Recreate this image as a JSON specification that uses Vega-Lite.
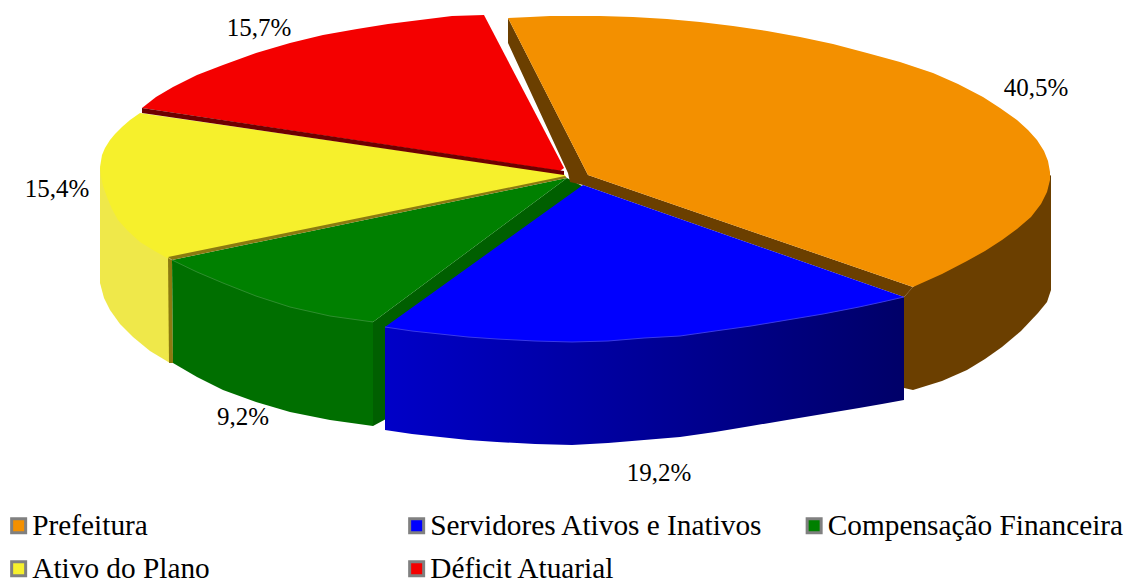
{"$schema":"https://vega.github.io/schema/vega-lite/v6.json","width":1128,"height":583,"autosize":{"type":"fit","contains":"padding"},"padding":0,"background":"white","config":{"view":{"stroke":null}},
"datasets":{"shapes":[
{"s":"yw","i":0,"x":100,"y":167},{"s":"yw","i":1,"x":100,"y":283},{"s":"yw","i":2,"x":104,"y":298},{"s":"yw","i":3,"x":110,"y":310},{"s":"yw","i":4,"x":120,"y":324},{"s":"yw","i":5,"x":133,"y":337},{"s":"yw","i":6,"x":150,"y":351},{"s":"yw","i":7,"x":170,"y":363},{"s":"yw","i":8,"x":170,"y":258},
{"s":"yb","i":0,"x":168,"y":258},{"s":"yb","i":1,"x":172,"y":260},{"s":"yb","i":2,"x":173,"y":363},{"s":"yb","i":3,"x":169,"y":363},
{"s":"gw","i":0,"x":172,"y":260},{"s":"gw","i":1,"x":173,"y":363},{"s":"gw","i":2,"x":197,"y":377},{"s":"gw","i":3,"x":223,"y":390},{"s":"gw","i":4,"x":256,"y":402},{"s":"gw","i":5,"x":290,"y":412},{"s":"gw","i":6,"x":330,"y":420},{"s":"gw","i":7,"x":373,"y":426},{"s":"gw","i":8,"x":373,"y":322},
{"s":"gs","i":0,"x":567,"y":178},{"s":"gs","i":1,"x":373,"y":322},{"s":"gs","i":2,"x":373,"y":426},{"s":"gs","i":3,"x":386,"y":419},{"s":"gs","i":4,"x":386,"y":329},{"s":"gs","i":5,"x":584,"y":187},
{"s":"ow","i":0,"x":1051,"y":175},{"s":"ow","i":1,"x":1051,"y":290},{"s":"ow","i":2,"x":1047,"y":302},{"s":"ow","i":3,"x":1038,"y":313},{"s":"ow","i":4,"x":1021,"y":331},{"s":"ow","i":5,"x":1002,"y":347},{"s":"ow","i":6,"x":985,"y":359},{"s":"ow","i":7,"x":967,"y":370},{"s":"ow","i":8,"x":942,"y":381},{"s":"ow","i":9,"x":913,"y":390},{"s":"ow","i":10,"x":904,"y":388},{"s":"ow","i":11,"x":904,"y":297},{"s":"ow","i":12,"x":913,"y":287},
{"s":"os","i":0,"x":508,"y":18},{"s":"os","i":1,"x":508,"y":43},{"s":"os","i":2,"x":568,"y":173},{"s":"os","i":3,"x":570,"y":182},{"s":"os","i":4,"x":583,"y":185},{"s":"os","i":5,"x":904,"y":297},{"s":"os","i":6,"x":913,"y":287},{"s":"os","i":7,"x":588,"y":175},
{"s":"bw","i":0,"x":385,"y":327},{"s":"bw","i":1,"x":385,"y":430},{"s":"bw","i":2,"x":412,"y":434},{"s":"bw","i":3,"x":440,"y":437},{"s":"bw","i":4,"x":468,"y":440},{"s":"bw","i":5,"x":497,"y":442},{"s":"bw","i":6,"x":535,"y":444},{"s":"bw","i":7,"x":572,"y":445},{"s":"bw","i":8,"x":608,"y":443},{"s":"bw","i":9,"x":644,"y":440},{"s":"bw","i":10,"x":680,"y":437},{"s":"bw","i":11,"x":715,"y":432},{"s":"bw","i":12,"x":751,"y":426},{"s":"bw","i":13,"x":787,"y":420},{"s":"bw","i":14,"x":823,"y":414},{"s":"bw","i":15,"x":859,"y":408},{"s":"bw","i":16,"x":882,"y":404},{"s":"bw","i":17,"x":904,"y":400},{"s":"bw","i":18,"x":904,"y":297},
{"s":"Prefeitura","i":0,"x":508,"y":18},{"s":"Prefeitura","i":1,"x":530,"y":17},{"s":"Prefeitura","i":2,"x":550,"y":16},{"s":"Prefeitura","i":3,"x":575,"y":16},{"s":"Prefeitura","i":4,"x":600,"y":16},{"s":"Prefeitura","i":5,"x":633,"y":17},{"s":"Prefeitura","i":6,"x":667,"y":19},{"s":"Prefeitura","i":7,"x":700,"y":22},{"s":"Prefeitura","i":8,"x":733,"y":26},{"s":"Prefeitura","i":9,"x":767,"y":31},{"s":"Prefeitura","i":10,"x":800,"y":37},{"s":"Prefeitura","i":11,"x":833,"y":44},{"s":"Prefeitura","i":12,"x":867,"y":53},{"s":"Prefeitura","i":13,"x":900,"y":62},{"s":"Prefeitura","i":14,"x":933,"y":73},{"s":"Prefeitura","i":15,"x":958,"y":84},{"s":"Prefeitura","i":16,"x":983,"y":97},{"s":"Prefeitura","i":17,"x":1000,"y":108},{"s":"Prefeitura","i":18,"x":1017,"y":120},{"s":"Prefeitura","i":19,"x":1028,"y":130},{"s":"Prefeitura","i":20,"x":1037,"y":140},{"s":"Prefeitura","i":21,"x":1044,"y":151},{"s":"Prefeitura","i":22,"x":1048,"y":161},{"s":"Prefeitura","i":23,"x":1050,"y":172},{"s":"Prefeitura","i":24,"x":1050,"y":180},{"s":"Prefeitura","i":25,"x":1047,"y":192},{"s":"Prefeitura","i":26,"x":1041,"y":204},{"s":"Prefeitura","i":27,"x":1031,"y":217},{"s":"Prefeitura","i":28,"x":1017,"y":229},{"s":"Prefeitura","i":29,"x":1002,"y":240},{"s":"Prefeitura","i":30,"x":985,"y":251},{"s":"Prefeitura","i":31,"x":967,"y":261},{"s":"Prefeitura","i":32,"x":942,"y":274},{"s":"Prefeitura","i":33,"x":913,"y":287},{"s":"Prefeitura","i":34,"x":588,"y":175},
{"s":"Ativo do Plano","i":0,"x":140,"y":113},{"s":"Ativo do Plano","i":1,"x":130,"y":120},{"s":"Ativo do Plano","i":2,"x":122,"y":127},{"s":"Ativo do Plano","i":3,"x":115,"y":134},{"s":"Ativo do Plano","i":4,"x":110,"y":140},{"s":"Ativo do Plano","i":5,"x":105,"y":148},{"s":"Ativo do Plano","i":6,"x":102,"y":155},{"s":"Ativo do Plano","i":7,"x":100,"y":167},{"s":"Ativo do Plano","i":8,"x":101,"y":176},{"s":"Ativo do Plano","i":9,"x":103,"y":186},{"s":"Ativo do Plano","i":10,"x":107,"y":197},{"s":"Ativo do Plano","i":11,"x":112,"y":209},{"s":"Ativo do Plano","i":12,"x":118,"y":220},{"s":"Ativo do Plano","i":13,"x":128,"y":231},{"s":"Ativo do Plano","i":14,"x":140,"y":242},{"s":"Ativo do Plano","i":15,"x":153,"y":250},{"s":"Ativo do Plano","i":16,"x":167,"y":258},{"s":"Ativo do Plano","i":17,"x":566,"y":177},{"s":"Ativo do Plano","i":18,"x":564,"y":174},
{"s":"Servidores Ativos e Inativos","i":0,"x":385,"y":327},{"s":"Servidores Ativos e Inativos","i":1,"x":412,"y":331},{"s":"Servidores Ativos e Inativos","i":2,"x":440,"y":334},{"s":"Servidores Ativos e Inativos","i":3,"x":468,"y":337},{"s":"Servidores Ativos e Inativos","i":4,"x":497,"y":339},{"s":"Servidores Ativos e Inativos","i":5,"x":535,"y":341},{"s":"Servidores Ativos e Inativos","i":6,"x":572,"y":342},{"s":"Servidores Ativos e Inativos","i":7,"x":608,"y":341},{"s":"Servidores Ativos e Inativos","i":8,"x":644,"y":338},{"s":"Servidores Ativos e Inativos","i":9,"x":680,"y":336},{"s":"Servidores Ativos e Inativos","i":10,"x":715,"y":331},{"s":"Servidores Ativos e Inativos","i":11,"x":751,"y":326},{"s":"Servidores Ativos e Inativos","i":12,"x":787,"y":320},{"s":"Servidores Ativos e Inativos","i":13,"x":823,"y":314},{"s":"Servidores Ativos e Inativos","i":14,"x":859,"y":307},{"s":"Servidores Ativos e Inativos","i":15,"x":882,"y":302},{"s":"Servidores Ativos e Inativos","i":16,"x":904,"y":297},{"s":"Servidores Ativos e Inativos","i":17,"x":583,"y":185},
{"s":"Déficit Atuarial","i":0,"x":484,"y":15},{"s":"Déficit Atuarial","i":1,"x":452,"y":16},{"s":"Déficit Atuarial","i":2,"x":420,"y":20},{"s":"Déficit Atuarial","i":3,"x":388,"y":24},{"s":"Déficit Atuarial","i":4,"x":357,"y":29},{"s":"Déficit Atuarial","i":5,"x":323,"y":35},{"s":"Déficit Atuarial","i":6,"x":290,"y":43},{"s":"Déficit Atuarial","i":7,"x":256,"y":53},{"s":"Déficit Atuarial","i":8,"x":223,"y":65},{"s":"Déficit Atuarial","i":9,"x":197,"y":75},{"s":"Déficit Atuarial","i":10,"x":173,"y":87},{"s":"Déficit Atuarial","i":11,"x":156,"y":97},{"s":"Déficit Atuarial","i":12,"x":142,"y":108},{"s":"Déficit Atuarial","i":13,"x":560,"y":171},{"s":"Déficit Atuarial","i":14,"x":564,"y":168},
{"s":"Compensação Financeira","i":0,"x":567,"y":178},{"s":"Compensação Financeira","i":1,"x":172,"y":260},{"s":"Compensação Financeira","i":2,"x":197,"y":272},{"s":"Compensação Financeira","i":3,"x":223,"y":283},{"s":"Compensação Financeira","i":4,"x":256,"y":296},{"s":"Compensação Financeira","i":5,"x":290,"y":307},{"s":"Compensação Financeira","i":6,"x":330,"y":316},{"s":"Compensação Financeira","i":7,"x":373,"y":322},
{"s":"rs","i":0,"x":142,"y":108},{"s":"rs","i":1,"x":142,"y":113},{"s":"rs","i":2,"x":564,"y":175},{"s":"rs","i":3,"x":564,"y":171},
{"s":"ge","i":0,"x":168,"y":257},{"s":"ge","i":1,"x":565,"y":176},{"s":"ge","i":2,"x":567,"y":178},{"s":"ge","i":3,"x":172,"y":260}
],
"labels":[{"label":"40,5%","x":1036,"y":88},{"label":"19,2%","x":659,"y":473},{"label":"9,2%","x":243,"y":417},{"label":"15,4%","x":57,"y":189},{"label":"15,7%","x":259,"y":28}]},
"encoding":{"x":{"field":"x","type":"quantitative","scale":{"domain":[0,1128]},"axis":null},"y":{"field":"y","type":"quantitative","scale":{"domain":[583,0]},"axis":null}},
"layer":[
{"data":{"name":"shapes"},"transform":[{"filter":"indexof(['yw','yb','gw','gs','ow','os'],datum.s)>=0"}],"mark":{"type":"line","filled":true,"strokeWidth":0},"encoding":{"order":{"field":"i"},"color":{"field":"s","scale":{"domain":["yw","yb","gw","gs","ow","os"],"range":["#EFE84A","#8B7A10","#006F00","#005F00","#6B3F00","#6B3F00"]},"legend":null}}},
{"data":{"name":"shapes"},"transform":[{"filter":"datum.s=='bw'"}],"mark":{"type":"line","filled":true,"strokeWidth":0,"color":{"gradient":"linear","x1":0,"x2":1,"y1":0,"y2":0,"stops":[{"offset":0,"color":"#0000C8"},{"offset":1,"color":"#000068"}]}},"encoding":{"order":{"field":"i"}}},
{"data":{"name":"shapes"},"transform":[{"filter":"datum.s=='Prefeitura'||datum.s=='Ativo do Plano'"}],"mark":{"type":"line","filled":true,"strokeWidth":0},"encoding":{"order":{"field":"i"},"color":{"field":"s","title":null,"scale":{"domain":["Prefeitura","Ativo do Plano"],"range":["#F39000","#F6F02C"]},"legend":{"orient":"none","legendX":4,"legendY":511,"symbolType":"square","symbolSize":196,"symbolStrokeColor":"#808080","symbolStrokeWidth":3,"labelFont":"Liberation Serif","labelFontSize":29.3,"labelColor":"black","labelOffset":-1,"rowPadding":13,"labelLimit":400,"padding":0}}}},
{"data":{"name":"shapes"},"transform":[{"filter":"datum.s=='Servidores Ativos e Inativos'||datum.s=='Déficit Atuarial'"}],"mark":{"type":"line","filled":true,"strokeWidth":0},"encoding":{"order":{"field":"i"},"color":{"field":"s","title":null,"scale":{"domain":["Servidores Ativos e Inativos","Déficit Atuarial"],"range":["#0000FF","#F40000"]},"legend":{"orient":"none","legendX":402,"legendY":511,"symbolType":"square","symbolSize":196,"symbolStrokeColor":"#808080","symbolStrokeWidth":3,"labelFont":"Liberation Serif","labelFontSize":29.3,"labelColor":"black","labelOffset":-1,"rowPadding":13,"labelLimit":400,"padding":0}}}},
{"data":{"name":"shapes"},"transform":[{"filter":"datum.s=='Compensação Financeira'"}],"mark":{"type":"line","filled":true,"strokeWidth":0},"encoding":{"order":{"field":"i"},"color":{"field":"s","title":null,"scale":{"domain":["Compensação Financeira"],"range":["#008000"]},"legend":{"orient":"none","legendX":799.5,"legendY":511,"symbolType":"square","symbolSize":196,"symbolStrokeColor":"#808080","symbolStrokeWidth":3,"labelFont":"Liberation Serif","labelFontSize":29.3,"labelColor":"black","labelOffset":-1,"rowPadding":13,"labelLimit":400,"padding":0}}}},
{"data":{"name":"shapes"},"transform":[{"filter":"datum.s=='rs'||datum.s=='ge'"}],"mark":{"type":"line","filled":true,"strokeWidth":0},"encoding":{"order":{"field":"i"},"color":{"field":"s","scale":{"domain":["rs","ge"],"range":["#6E0000","#8B7A10"]},"legend":null}}},
{"data":{"name":"shapes"},"transform":[{"filter":"datum.s=='Servidores Ativos e Inativos'&&datum.i<=16"}],"mark":{"type":"line","stroke":"#3A3AE8","strokeWidth":1},"encoding":{"order":{"field":"i"}}},
{"data":{"name":"shapes"},"transform":[{"filter":"datum.s=='Compensação Financeira'&&datum.i>=1"}],"mark":{"type":"line","stroke":"#2E8E2E","strokeWidth":1},"encoding":{"order":{"field":"i"}}},
{"data":{"name":"labels"},"mark":{"type":"text","font":"Liberation Serif","fontSize":25,"color":"black"},"encoding":{"text":{"field":"label"}}}
],
"resolve":{"scale":{"color":"independent"}}}
